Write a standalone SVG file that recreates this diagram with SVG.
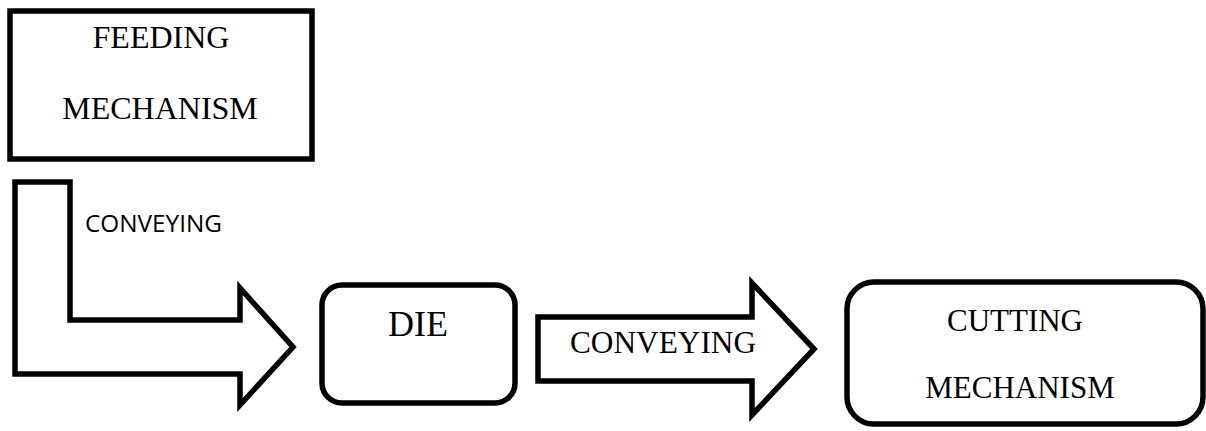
<svg xmlns="http://www.w3.org/2000/svg" width="1206" height="431" viewBox="0 0 1206 431">
<style>
.box{fill:#fff;stroke:#000;stroke-width:5.5}
.arrow{fill:#fff;stroke:#000;stroke-width:5.5;stroke-linejoin:miter}
.serif{font-family:"Liberation Serif","Times New Roman",serif;fill:#000}
.sans{font-family:"Open Sans","Liberation Sans",Arial,sans-serif;fill:#000}
</style>
<rect width="1206" height="431" fill="#fff"/>
<g id="connectors">
<path class="arrow" d="M15,182 L70,182 L70,320 L240,320 L240,288 L293,347 L240,405 L240,374 L15,374 Z"/>
<text class="sans" x="85" y="232" font-size="24" textLength="137" lengthAdjust="spacingAndGlyphs">CONVEYING</text>
<path class="arrow" d="M538,317 L752,317 L752,283 L814,349 L752,415 L752,381 L538,381 Z"/>
<text class="serif" x="570" y="353" font-size="31" textLength="186" lengthAdjust="spacingAndGlyphs">CONVEYING</text>
</g>
<g id="feeding">
<rect class="box" x="10" y="11" width="302" height="148"/>
<text class="serif" x="161" y="48" font-size="32" text-anchor="middle">FEEDING</text>
<text class="serif" x="160" y="119" font-size="32" text-anchor="middle">MECHANISM</text>
</g>
<g id="die">
<rect class="box" x="322" y="285" width="193" height="118" rx="20"/>
<text class="serif" x="418" y="336" font-size="36" text-anchor="middle">DIE</text>
</g>
<g id="cutting">
<rect class="box" x="847" y="282" width="356" height="142" rx="27"/>
<text class="serif" x="1015" y="331" font-size="31" text-anchor="middle">CUTTING</text>
<text class="serif" x="1020" y="398" font-size="31" text-anchor="middle">MECHANISM</text>
</g>
</svg>
